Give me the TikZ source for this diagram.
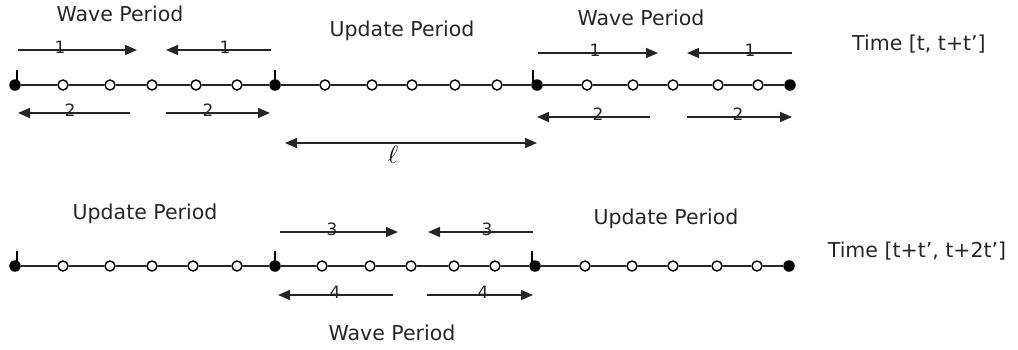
\documentclass[tikz,border=0pt]{standalone}
\usepackage{fontspec}
\setmainfont{DejaVu Sans}
\usetikzlibrary{arrows.meta}
\begin{document}
\begin{tikzpicture}[x=1pt,y=-1pt,
  lbl/.style={font=\fontsize{20.5}{24}\selectfont, text=black!85, inner sep=0},
  num/.style={font=\fontsize{17}{20}\selectfont, text=black!85, inner sep=0, anchor=base},
  fulldot/.style={circle, fill=black, inner sep=0, minimum size=11.5pt},
  opendot/.style={circle, draw=black, fill=white, line width=1.4pt, inner sep=0, minimum size=10pt},
  seg/.style={line width=1.7pt, draw=black!85},
  tick/.style={line width=1.4pt, draw=black},
  arr/.style={line width=1.6pt, draw=black!85, -{Triangle[length=12pt,width=10pt]}},
  dbl/.style={line width=1.6pt, draw=black!85, {Triangle[length=12pt,width=10pt]}-{Triangle[length=12pt,width=10pt]}},
]
\useasboundingbox (0,0) rectangle (1018,349);

% top row of nodes
\foreach \x/\k [count=\i] in {15/fulldot,63/opendot,110/opendot,152/opendot,196/opendot,237/opendot,275/fulldot,325/opendot,372/opendot,412/opendot,455/opendot,497/opendot,537/fulldot,587/opendot,633/opendot,673/opendot,718/opendot,758/opendot,790/fulldot}
  \node[\k] (t\i) at (\x,85) {};
\foreach \i [evaluate=\i as \j using int(\i+1)] in {1,...,18}
  \draw[seg] (t\i) -- (t\j);
\draw[tick] ([xshift=2pt]t1.center) -- ++(0,-15);
\draw[tick] (t7.center) -- ++(0,-15);
\draw[tick] ([xshift=-4pt]t13.center) -- ++(0,-15);

% bottom row of nodes
\foreach \x/\k [count=\i] in {15/fulldot,63/opendot,110/opendot,152/opendot,193/opendot,237/opendot,275/fulldot,322/opendot,370/opendot,411/opendot,454/opendot,495/opendot,535/fulldot,585/opendot,632/opendot,673/opendot,717/opendot,757/opendot,789/fulldot}
  \node[\k] (b\i) at (\x,266) {};
\foreach \i [evaluate=\i as \j using int(\i+1)] in {1,...,18}
  \draw[seg] (b\i) -- (b\j);
\draw[tick] ([xshift=2pt]b1.center) -- ++(0,-15);
\draw[tick] (b7.center) -- ++(0,-15);
\draw[tick] ([xshift=-3pt]b13.center) -- ++(0,-15);

% labelled arrows
\foreach \n/\xa/\xb/\y/\lx/\t in {
  p1/18/137/50/60/1, p2/271/166/50/225/1, p3/130/18/113/70/2, p4/166/270/113/208/2,
  p5/538/658/53/595/1, p6/792/687/53/750/1, p7/650/537/117/598/2, p8/687/792/117/738/2,
  q1/280/398/232/332/3, q2/533/428/232/487/3, q3/393/278/295/335/4, q4/427/533/295/483/4}{
  \coordinate (\n s) at (\xa,\y);
  \coordinate (\n e) at (\xb,\y);
  \draw[arr] (\n s) -- (\n e);
  \node[num] (\n l) at (\lx,\y+3) {\t};
}

% length l
\coordinate (ls) at (285,143);
\coordinate (le) at (537,143);
\draw[dbl] (ls) -- (le);
\node[font=\fontsize{24}{28}\selectfont, inner sep=0] (ll) at (393,155) {$\ell$};

% texts
\node[lbl] (w1) at (120,14) {Wave Period};
\node[lbl] (u1) at (402,31) {Update Period};
\node[lbl] (w2) at (641,18) {Wave Period};
\node[lbl] (tm1) at (919,44) {Time [t, t+t']};
\node[lbl] (u2) at (145,214) {Update Period};
\node[lbl] (u3) at (666,219) {Update Period};
\node[lbl] (tm2) at (917,251) {Time [t+t', t+2t']};
\node[lbl] (w3) at (392,333) {Wave Period};
\end{tikzpicture}
\end{document}
